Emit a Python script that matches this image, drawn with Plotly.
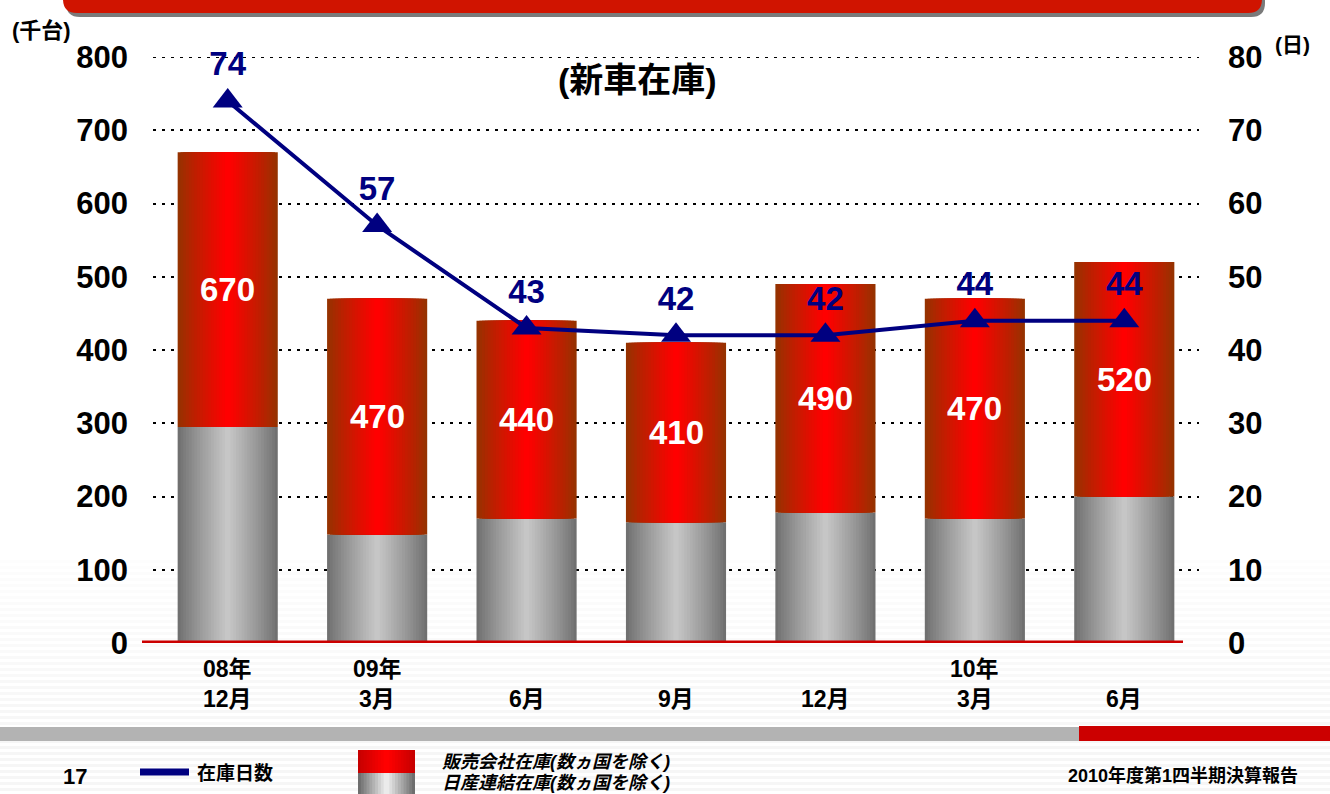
import plotly.graph_objects as go

# ---------------- data ----------------
categories = ["08年12月", "09年3月", "09年6月", "09年9月", "09年12月", "10年3月", "10年6月"]
year_labels = ["08年", "09年", "", "", "", "10年", ""]
month_labels = ["12月", "3月", "6月", "9月", "12月", "3月", "6月"]
total_stock = [670, 470, 440, 410, 490, 470, 520]       # 新車在庫 合計 (千台)
nissan_stock = [295, 148, 170, 165, 178, 170, 200]      # 日産連結在庫 (千台)
stock_days = [74, 57, 43, 42, 42, 44, 44]               # 在庫日数 (日)
left_ticks = [0, 100, 200, 300, 400, 500, 600, 700, 800]
right_ticks = [0, 10, 20, 30, 40, 50, 60, 70, 80]

dealer_stock = [t - n for t, n in zip(total_stock, nissan_stock)]
label_mid = [n + d / 2 for n, d in zip(nissan_stock, dealer_stock)]

# ---------------- geometry helpers ----------------
W, H = 1330, 794
L, R, T, B = 153, 1199, 57, 643
PW, PH = R - L, B - T


def px(x):
    return (x - L) / PW


def py(y):
    return (B - y) / PH


FONT = "Liberation Sans, Arial, Noto Sans CJK JP, sans-serif"
NAVY = "#000080"


def lerp(c1, c2, t):
    return "rgb(%d,%d,%d)" % tuple(round(a + (b - a) * t) for a, b in zip(c1, c2))


fig = go.Figure()

# ---------------- bars with simulated horizontal gradient ----------------
N = 18
BAR_W = 0.67
gray_edge, gray_center = (112, 112, 112), (198, 198, 198)
red_edge, red_center = (150, 50, 0), (255, 0, 0)

for k in range(N):
    t = k / (N - 1)
    w = BAR_W * (1 - k / N)
    fig.add_trace(go.Bar(x=categories, y=nissan_stock, width=w,
                         marker=dict(color=lerp(gray_edge, gray_center, t ** 0.9), line=dict(width=0)),
                         showlegend=False, hoverinfo="skip"))
for k in range(N):
    t = k / (N - 1)
    w = BAR_W * (1 - k / N)
    fig.add_trace(go.Bar(x=categories, y=dealer_stock, base=nissan_stock, width=w,
                         marker=dict(color=lerp(red_edge, red_center, t ** 0.9), line=dict(width=0)),
                         showlegend=False, hoverinfo="skip"))

# ---------------- stock-days line ----------------
fig.add_trace(go.Scatter(x=categories, y=stock_days, yaxis="y2", mode="lines+markers+text",
                         line=dict(color=NAVY, width=4),
                         marker=dict(symbol="triangle-up", size=26, color=NAVY),
                         text=[str(v) for v in stock_days], textposition="top center",
                         textfont=dict(family=FONT, size=33, color=NAVY, weight="bold"),
                         cliponaxis=False, showlegend=False, hoverinfo="skip"))

annotations = []


def note(x, y, text, size, color="black", xanchor="center", **kw):
    annotations.append(dict(x=x, y=y, text=text, showarrow=False, xanchor=xanchor, yanchor="middle",
                            font=dict(family=FONT, size=size, color=color, weight="bold"), **kw))


# values inside red bars
for c, v, m in zip(categories, total_stock, label_mid):
    note(c, m, str(v), 33, "white", xref="x", yref="y")
# x labels (two rows)
for c, yl, ml in zip(categories, year_labels, month_labels):
    if yl:
        note(c, py(669), yl, 23, xref="x", yref="paper")
    note(c, py(699), ml, 23, xref="x", yref="paper")

# titles / units / footer
note(px(637), py(80), "(新車在庫)", 34, xref="paper", yref="paper")
note(px(10), py(30), "(千台)", 22, xanchor="left", xref="paper", yref="paper")
note(px(1273), py(44), "(日)", 21, xanchor="left", xref="paper", yref="paper")
note(px(75), py(776), "17", 22, xref="paper", yref="paper")
note(px(195), py(773), "在庫日数", 19, xanchor="left", xref="paper", yref="paper")
note(px(440), py(762), "<i>販売会社在庫(数ヵ国を除く)</i>", 18, xanchor="left", xref="paper", yref="paper")
note(px(440), py(783), "<i>日産連結在庫(数ヵ国を除く)</i>", 18, xanchor="left", xref="paper", yref="paper")
note(px(1300), py(775), "2010年度第1四半期決算報告", 18, xanchor="right", xref="paper", yref="paper")

shapes = []
# faint horizontal stripes in lower background
yy = 560
while yy < 794:
    a = min(0.035, 0.008 + (yy - 560) / 200 * 0.03)
    shapes.append(dict(type="rect", xref="paper", yref="paper", layer="below",
                       x0=px(0), x1=px(W), y0=py(yy), y1=py(yy + 3),
                       fillcolor="rgba(0,0,0,%.3f)" % a, line=dict(width=0)))
    yy += 6

# top gridline (at the axis edge plotly omits it)
shapes.append(dict(type="line", xref="paper", yref="y", x0=0, x1=1, y0=left_ticks[-1], y1=left_ticks[-1],
                   line=dict(color="black", width=2, dash="3px,6px"), layer="below"))


def banner_path(dx, dy):
    x0, x1, y0, y1, r = 63 + dx, 1262 + dx, -10 + dy, 13 + dy, 14
    return ("M %f %f L %f %f L %f %f Q %f %f %f %f L %f %f Q %f %f %f %f Z" % (
        px(x0), py(y0), px(x1), py(y0), px(x1), py(y1 - r), px(x1), py(y1), px(x1 - r), py(y1),
        px(x0 + r), py(y1), px(x0), py(y1), px(x0), py(y1 - r)))


shapes.append(dict(type="path", xref="paper", yref="paper", path=banner_path(3, 4),
                   fillcolor="#7a7a7a", line=dict(width=0), layer="above"))
shapes.append(dict(type="path", xref="paper", yref="paper", path=banner_path(0, 0),
                   fillcolor="#d01400", line=dict(width=0), layer="above"))

# red baseline
shapes.append(dict(type="line", xref="paper", yref="y", x0=px(142), x1=px(1183), y0=0, y1=0,
                   line=dict(color="#cc0000", width=5), layer="above"))

# bottom band
shapes.append(dict(type="rect", xref="paper", yref="paper", x0=px(0), x1=px(1079), y0=py(727), y1=py(741),
                   fillcolor="#b3b3b3", line=dict(width=0), layer="above"))
shapes.append(dict(type="rect", xref="paper", yref="paper", x0=px(1079), x1=px(W), y0=py(726), y1=py(741),
                   fillcolor="#cc0000", line=dict(width=0), layer="above"))

# legend: line sample
shapes.append(dict(type="line", xref="paper", yref="paper", x0=px(140), x1=px(189), y0=py(772), y1=py(772),
                   line=dict(color=NAVY, width=7), layer="above"))
# legend: gradient boxes
M = 10
for k in range(M):
    t = k / (M - 1)
    x0 = 358 + 28.5 * k / M
    x1 = 415 - 28.5 * k / M
    shapes.append(dict(type="rect", xref="paper", yref="paper", x0=px(x0), x1=px(x1), y0=py(750), y1=py(773),
                       fillcolor=lerp((200, 0, 0), (255, 0, 0), t), line=dict(width=0), layer="above"))
    shapes.append(dict(type="rect", xref="paper", yref="paper", x0=px(x0), x1=px(x1), y0=py(773), y1=py(794),
                       fillcolor=lerp((110, 110, 110), (235, 235, 235), t), line=dict(width=0), layer="above"))

fig.update_layout(
    width=W, height=H, autosize=False,
    margin=dict(l=L, r=W - R, t=T, b=H - B, pad=0),
    paper_bgcolor="white", plot_bgcolor="rgba(0,0,0,0)",
    barmode="overlay", bargap=0.33,
    font=dict(family=FONT, color="black"),
    xaxis=dict(type="category", categoryorder="array", categoryarray=categories, range=[-0.5, 6.5],
               showticklabels=False, showgrid=False, zeroline=False, showline=False, ticks=""),
    yaxis=dict(range=[0, 800], tickvals=left_ticks, showgrid=True, gridcolor="black", gridwidth=2,
               griddash="3px,6px", zeroline=False, showline=False, ticks="",
               tickfont=dict(family=FONT, size=31, color="black", weight="bold"), ticklabelstandoff=24),
    yaxis2=dict(range=[0, 80], tickvals=right_ticks, overlaying="y", side="right", showgrid=False,
                zeroline=False, showline=False, ticks="",
                tickfont=dict(family=FONT, size=31, color="black", weight="bold"), ticklabelstandoff=28),
    annotations=annotations, shapes=shapes, showlegend=False,
)

fig.write_html("out.html", config={"displayModeBar": False},
               post_script="document.body.style.margin='0';document.body.style.overflow='hidden';")
